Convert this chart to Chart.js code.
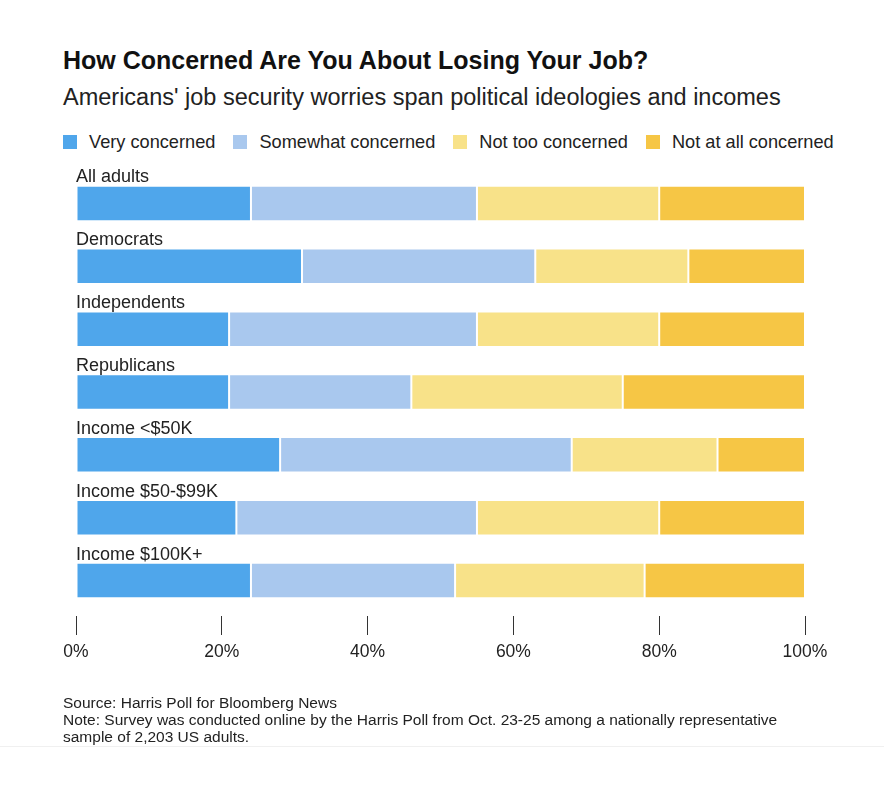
<!DOCTYPE html>
<html>
<head>
<meta charset="utf-8">
<script src="https://cdn.jsdelivr.net/npm/chart.js@4.4.1/dist/chart.umd.min.js"></script>
<style>
  html, body { margin: 0; padding: 0; background: #fff; }
  body { width: 884px; height: 800px; position: relative; overflow: hidden; font-family: "Liberation Sans", Arial, sans-serif; color: #111; }
  #title { position: absolute; left: 63px; top: 46px; font-size: 25px; font-weight: bold; white-space: nowrap; letter-spacing: 0px; }
  #subtitle { position: absolute; left: 63px; top: 84px; font-size: 23.5px; white-space: nowrap; color: #222; letter-spacing: 0px; }
  #legend { position: absolute; left: 63px; top: 131px; height: 22px; white-space: nowrap; font-size: 18.2px; color: #222; display: flex; align-items: center; }
  .li { display: inline-flex; align-items: center; margin-right: 18px; }
  .sw { width: 14px; height: 14px; display: inline-block; margin-right: 12px; }
  #wrap { position: absolute; left: 0; top: 0; width: 884px; height: 700px; }
  #footer { position: absolute; left: 63px; top: 694px; font-size: 15.5px; line-height: 17px; color: #222; white-space: nowrap; }
  #sep { position: absolute; left: 0; top: 746px; width: 884px; height: 1px; background: #f0f0f0; }
</style>
</head>
<body>
<div id="title">How Concerned Are You About Losing Your Job?</div>
<div id="subtitle">Americans' job security worries span political ideologies and incomes</div>
<div id="legend"></div>
<div id="wrap"><canvas id="c"></canvas></div>
<div id="footer">Source: Harris Poll for Bloomberg News<br>Note: Survey was conducted online by the Harris Poll from Oct. 23-25 among a nationally representative<br>sample of 2,203 US adults.</div>
<div id="sep"></div>
<script>
const categories = ['All adults', 'Democrats', 'Independents', 'Republicans', 'Income <$50K', 'Income $50-$99K', 'Income $100K+'];
const seriesNames = ['Very concerned', 'Somewhat concerned', 'Not too concerned', 'Not at all concerned'];
const veryConcerned      = [24, 31, 21, 21, 28, 22, 24];
const somewhatConcerned  = [31, 32, 34, 25, 40, 33, 28];
const notTooConcerned    = [25, 21, 25, 29, 20, 25, 26];
const notAtAllConcerned  = [20, 16, 20, 25, 12, 20, 22];
const tickValues = [0, 20, 40, 60, 80, 100];
const tickLabels = ['0%', '20%', '40%', '60%', '80%', '100%'];

const colors = ['#4fa6eb', '#a9c8ee', '#f8e289', '#f6c645'];
const seriesData = [veryConcerned, somewhatConcerned, notTooConcerned, notAtAllConcerned];

// HTML legend
const legendEl = document.getElementById('legend');
seriesNames.forEach((n, i) => {
  const li = document.createElement('span');
  li.className = 'li';
  const sw = document.createElement('span');
  sw.className = 'sw';
  sw.style.background = colors[i];
  li.appendChild(sw);
  li.appendChild(document.createTextNode(n));
  legendEl.appendChild(li);
});

const catLabelPlugin = {
  id: 'catLabels',
  afterDatasetsDraw(chart) {
    const ctx = chart.ctx;
    const y = chart.scales.y;
    const x0 = chart.scales.x.getPixelForValue(0);
    ctx.save();
    ctx.font = '18px "Liberation Sans", Arial, sans-serif';
    ctx.fillStyle = '#222';
    ctx.textAlign = 'left';
    ctx.textBaseline = 'alphabetic';
    categories.forEach((c, i) => {
      const cy = y.getPixelForValue(i);
      ctx.fillText(c, x0, cy - 21);
    });
    ctx.restore();
  }
};

new Chart(document.getElementById('c'), {
  type: 'bar',
  data: {
    labels: categories,
    datasets: seriesNames.map((n, i) => ({
      label: n,
      data: seriesData[i],
      backgroundColor: colors[i],
      borderColor: 'rgba(255,255,255,0.85)',
      borderWidth: 1,
      borderSkipped: false,
      barPercentage: 0.565,
      categoryPercentage: 1.0
    }))
  },
  options: {
    indexAxis: 'y',
    responsive: true,
    maintainAspectRatio: false,
    animation: false,
    layout: { padding: { left: 76, right: 79, top: 172, bottom: 30 } },
    plugins: { legend: { display: false }, tooltip: { enabled: false }, title: { display: false } },
    scales: {
      y: {
        stacked: true,
        display: false
      },
      x: {
        stacked: true,
        min: 0,
        max: 100,
        afterBuildTicks(scale) { scale.ticks = tickValues.map(v => ({ value: v })); },
        border: { display: false },
        grid: {
          drawOnChartArea: false,
          drawTicks: true,
          tickLength: 23,
          tickColor: '#333',
          tickWidth: 1,
          tickBorderDash: [19, 4],
          tickBorderDashOffset: 19
        },
        ticks: {
          padding: 7,
          color: '#222',
          font: { family: '"Liberation Sans", Arial, sans-serif', size: 17.5 },
          maxRotation: 0,
          callback(value) { const k = tickValues.indexOf(value); return k >= 0 ? tickLabels[k] : ''; }
        }
      }
    }
  },
  plugins: [catLabelPlugin]
});
</script>
</body>
</html>
